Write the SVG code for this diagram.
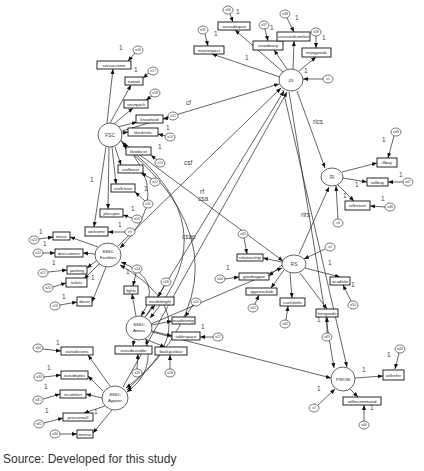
<svg xmlns="http://www.w3.org/2000/svg" width="424" height="471" viewBox="0 0 424 471">
<style>
.bg{fill:#fff}
.lat{fill:#fff;stroke:#222;stroke-width:0.7}
.obs{fill:#fff;stroke:#111;stroke-width:0.9}
.err{fill:#fff;stroke:#222;stroke-width:0.6}
.ln{fill:none;stroke:#222;stroke-width:0.7}
.t{font-family:"Liberation Sans",Arial,sans-serif;font-size:4.3px;fill:#222;text-anchor:middle}
.tl{font-family:"Liberation Sans",Arial,sans-serif;font-size:5px;fill:#444;text-anchor:middle}
.te{font-family:"Liberation Sans",Arial,sans-serif;font-size:3.4px;fill:#333;text-anchor:middle}
.one{font-family:"Liberation Sans",Arial,sans-serif;font-size:6.5px;fill:#444}
.pl{font-family:"Liberation Sans",Arial,sans-serif;font-size:6.5px;fill:#444}
.src{font-family:"Liberation Sans",Arial,sans-serif;font-size:12px;fill:#333}
</style>
<defs>
<marker id="a" viewBox="0 0 10 10" refX="10" refY="5" markerWidth="5" markerHeight="5" markerUnits="userSpaceOnUse" orient="auto-start-reverse"><path d="M0,1 L10,5 L0,9 z" fill="#111"/></marker>
</defs>
<rect class="bg" x="0" y="0" width="424" height="471"/>

<g id="connectors">
<!-- structural paths -->
<line class="ln" x1="122" y1="131" x2="279" y2="84" marker-end="url(#a)"/>
<line class="ln" x1="118" y1="246" x2="281" y2="88" marker-end="url(#a)"/>
<line class="ln" x1="146" y1="316" x2="284" y2="91" marker-end="url(#a)"/>
<line class="ln" x1="123" y1="387" x2="287" y2="92" marker-end="url(#a)"/>
<line class="ln" x1="121" y1="141" x2="283" y2="261" marker-end="url(#a)"/>
<line class="ln" x1="151" y1="324" x2="282" y2="268" marker-end="url(#a)"/>
<line class="ln" x1="152" y1="332" x2="331" y2="378" marker-end="url(#a)"/>
<line class="ln" x1="297" y1="91" x2="325" y2="168" marker-end="url(#a)"/>
<line class="ln" x1="299" y1="254" x2="329" y2="187" marker-end="url(#a)"/>
<line class="ln" x1="289" y1="92" x2="334" y2="368" marker-end="url(#a)"/>
<line class="ln" x1="283" y1="90" x2="347" y2="367" marker-end="url(#a)"/>
<!-- covariances -->
<path class="ln" d="M122,142 Q175,195 120,248" marker-start="url(#a)" marker-end="url(#a)"/>
<path class="ln" d="M123,144 Q230,225 150,318" marker-start="url(#a)" marker-end="url(#a)"/>
<path class="ln" d="M124,146 Q265,265 127,390" marker-start="url(#a)" marker-end="url(#a)"/>
<path class="ln" d="M121,262 Q165,280 141,316" marker-start="url(#a)" marker-end="url(#a)"/>
<path class="ln" d="M120,265 Q215,320 126,388" marker-start="url(#a)" marker-end="url(#a)"/>
<path class="ln" d="M146,339 Q155,372 127,392" marker-start="url(#a)" marker-end="url(#a)"/>
<!-- CS indicators -->
<line class="ln" x1="280" y1="77" x2="212" y2="54" marker-end="url(#a)"/>
<line class="ln" x1="283" y1="72" x2="235" y2="30" marker-end="url(#a)"/>
<line class="ln" x1="287" y1="69" x2="274" y2="50" marker-end="url(#a)"/>
<line class="ln" x1="293" y1="69" x2="294" y2="41" marker-end="url(#a)"/>
<line class="ln" x1="299" y1="71" x2="316" y2="57" marker-end="url(#a)"/>
<line class="ln" x1="205" y1="34" x2="208" y2="46" marker-end="url(#a)"/>
<line class="ln" x1="230" y1="14" x2="233" y2="22" marker-end="url(#a)"/>
<line class="ln" x1="265" y1="29" x2="268" y2="41" marker-end="url(#a)"/>
<line class="ln" x1="287" y1="18" x2="294" y2="32" marker-end="url(#a)"/>
<line class="ln" x1="316" y1="36" x2="316" y2="48" marker-end="url(#a)"/>
<line class="ln" x1="323" y1="79" x2="303" y2="79" marker-end="url(#a)"/>
<!-- FSC indicators -->
<line class="ln" x1="107" y1="123" x2="113" y2="69" marker-end="url(#a)"/>
<line class="ln" x1="110" y1="123" x2="131" y2="85" marker-end="url(#a)"/>
<line class="ln" x1="114" y1="124" x2="133" y2="108" marker-end="url(#a)"/>
<line class="ln" x1="118" y1="127" x2="137" y2="122" marker-end="url(#a)"/>
<line class="ln" x1="122" y1="133" x2="128" y2="132" marker-end="url(#a)"/>
<line class="ln" x1="121" y1="140" x2="127" y2="149" marker-end="url(#a)"/>
<line class="ln" x1="115" y1="147" x2="121" y2="165" marker-end="url(#a)"/>
<line class="ln" x1="112" y1="147" x2="116" y2="184" marker-end="url(#a)"/>
<line class="ln" x1="109" y1="147" x2="108" y2="209" marker-end="url(#a)"/>
<line class="ln" x1="106" y1="147" x2="94" y2="227" marker-end="url(#a)"/>
<line class="ln" x1="135" y1="53" x2="128" y2="61" marker-end="url(#a)"/>
<line class="ln" x1="149" y1="73" x2="143" y2="78" marker-end="url(#a)"/>
<line class="ln" x1="152" y1="96" x2="146" y2="100" marker-end="url(#a)"/>
<line class="ln" x1="168" y1="118" x2="163" y2="119" marker-end="url(#a)"/>
<line class="ln" x1="166" y1="136" x2="158" y2="134" marker-end="url(#a)"/>
<line class="ln" x1="157" y1="160" x2="151" y2="155" marker-end="url(#a)"/>
<line class="ln" x1="152" y1="179" x2="141" y2="173" marker-end="url(#a)"/>
<line class="ln" x1="145" y1="201" x2="135" y2="192" marker-end="url(#a)"/>
<line class="ln" x1="132" y1="218" x2="123" y2="215" marker-end="url(#a)"/>
<line class="ln" x1="125" y1="232" x2="108" y2="232" marker-end="url(#a)"/>
<!-- Facilities indicators -->
<line class="ln" x1="98" y1="247" x2="70" y2="237" marker-end="url(#a)"/>
<line class="ln" x1="95" y1="254" x2="83" y2="253" marker-end="url(#a)"/>
<line class="ln" x1="96" y1="261" x2="87" y2="268" marker-end="url(#a)"/>
<line class="ln" x1="99" y1="264" x2="84" y2="279" marker-end="url(#a)"/>
<line class="ln" x1="106" y1="267" x2="92" y2="302" marker-end="url(#a)"/>
<line class="ln" x1="39" y1="239" x2="53" y2="237" marker-end="url(#a)"/>
<line class="ln" x1="43" y1="253" x2="55" y2="253" marker-end="url(#a)"/>
<line class="ln" x1="48" y1="272" x2="67" y2="270" marker-end="url(#a)"/>
<line class="ln" x1="53" y1="287" x2="66" y2="283" marker-end="url(#a)"/>
<line class="ln" x1="60" y1="305" x2="77" y2="302" marker-end="url(#a)"/>
<!-- Atmos indicators -->
<line class="ln" x1="136" y1="316" x2="132" y2="294" marker-end="url(#a)"/>
<line class="ln" x1="145" y1="317" x2="155" y2="305" marker-end="url(#a)"/>
<line class="ln" x1="152" y1="325" x2="172" y2="321" marker-end="url(#a)"/>
<line class="ln" x1="152" y1="331" x2="172" y2="336" marker-end="url(#a)"/>
<line class="ln" x1="134" y1="340" x2="133" y2="346" marker-end="url(#a)"/>
<line class="ln" x1="145" y1="339" x2="165" y2="347" marker-end="url(#a)"/>
<line class="ln" x1="136" y1="273" x2="133" y2="286" marker-end="url(#a)"/>
<line class="ln" x1="164" y1="286" x2="158" y2="297" marker-end="url(#a)"/>
<line class="ln" x1="193" y1="305" x2="185" y2="317" marker-end="url(#a)"/>
<line class="ln" x1="213" y1="337" x2="200" y2="337" marker-end="url(#a)"/>
<line class="ln" x1="137" y1="369" x2="138" y2="354" marker-end="url(#a)"/>
<line class="ln" x1="170" y1="369" x2="170" y2="355" marker-end="url(#a)"/>
<!-- Appear indicators -->
<line class="ln" x1="110" y1="386" x2="88" y2="355" marker-end="url(#a)"/>
<line class="ln" x1="103" y1="391" x2="88" y2="376" marker-end="url(#a)"/>
<line class="ln" x1="102" y1="398" x2="86" y2="394" marker-end="url(#a)"/>
<line class="ln" x1="105" y1="406" x2="84" y2="413" marker-end="url(#a)"/>
<line class="ln" x1="112" y1="410" x2="93" y2="433" marker-end="url(#a)"/>
<line class="ln" x1="43" y1="349" x2="61" y2="351" marker-end="url(#a)"/>
<line class="ln" x1="44" y1="377" x2="61" y2="375" marker-end="url(#a)"/>
<line class="ln" x1="43" y1="399" x2="60" y2="394" marker-end="url(#a)"/>
<line class="ln" x1="44" y1="423" x2="63" y2="418" marker-end="url(#a)"/>
<line class="ln" x1="60" y1="434" x2="77" y2="434" marker-end="url(#a)"/>
<!-- RS indicators -->
<line class="ln" x1="305" y1="268" x2="340" y2="277" marker-end="url(#a)"/>
<line class="ln" x1="300" y1="273" x2="327" y2="309" marker-end="url(#a)"/>
<line class="ln" x1="290" y1="273" x2="292" y2="298" marker-end="url(#a)"/>
<line class="ln" x1="282" y1="262" x2="263" y2="258" marker-end="url(#a)"/>
<line class="ln" x1="282" y1="265" x2="269" y2="276" marker-end="url(#a)"/>
<line class="ln" x1="284" y1="270" x2="271" y2="288" marker-end="url(#a)"/>
<line class="ln" x1="325" y1="249" x2="304" y2="259" marker-end="url(#a)"/>
<line class="ln" x1="351" y1="301" x2="343" y2="285" marker-end="url(#a)"/>
<line class="ln" x1="327" y1="333" x2="327" y2="317" marker-end="url(#a)"/>
<line class="ln" x1="286" y1="320" x2="288" y2="306" marker-end="url(#a)"/>
<line class="ln" x1="244" y1="238" x2="247" y2="254" marker-end="url(#a)"/>
<line class="ln" x1="225" y1="279" x2="239" y2="277" marker-end="url(#a)"/>
<line class="ln" x1="255" y1="304" x2="259" y2="295" marker-end="url(#a)"/>
<!-- RI indicators -->
<line class="ln" x1="342" y1="172" x2="377" y2="163" marker-end="url(#a)"/>
<line class="ln" x1="343" y1="178" x2="367" y2="182" marker-end="url(#a)"/>
<line class="ln" x1="338" y1="185" x2="354" y2="201" marker-end="url(#a)"/>
<line class="ln" x1="394" y1="136" x2="388" y2="158" marker-end="url(#a)"/>
<line class="ln" x1="403" y1="182" x2="388" y2="182" marker-end="url(#a)"/>
<line class="ln" x1="385" y1="207" x2="370" y2="206" marker-end="url(#a)"/>
<line class="ln" x1="338" y1="219" x2="336" y2="186" marker-end="url(#a)"/>
<!-- PWOM indicators -->
<line class="ln" x1="355" y1="378" x2="383" y2="376" marker-end="url(#a)"/>
<line class="ln" x1="350" y1="389" x2="358" y2="397" marker-end="url(#a)"/>
<line class="ln" x1="399" y1="353" x2="395" y2="369" marker-end="url(#a)"/>
<line class="ln" x1="364" y1="421" x2="364" y2="405" marker-end="url(#a)"/>
<line class="ln" x1="318" y1="405" x2="335" y2="389" marker-end="url(#a)"/>
</g>

<g id="labels">
<text class="pl" x="186" y="105">cf</text>
<text class="pl" x="184" y="165">csf</text>
<text class="pl" x="200" y="194">rf</text>
<text class="pl" x="198" y="201">csa</text>
<text class="pl" x="182" y="239">csap</text>
<text class="pl" x="313" y="124">rics</text>
<text class="pl" x="301" y="217">rirs</text>
<text class="one" x="245" y="60">1</text>
<text class="one" x="214" y="36">1</text>
<text class="one" x="236" y="14">1</text>
<text class="one" x="270" y="30">1</text>
<text class="one" x="295" y="20">1</text>
<text class="one" x="322" y="40">1</text>
<text class="one" x="304" y="73">1</text>
<text class="one" x="119" y="50">1</text>
<text class="one" x="134" y="72">1</text>
<text class="one" x="166" y="130">1</text>
<text class="one" x="158" y="149">1</text>
<text class="one" x="144" y="191">1</text>
<text class="one" x="131" y="211">1</text>
<text class="one" x="90" y="182">1</text>
<text class="one" x="118" y="227">1</text>
<text class="one" x="39" y="234">1</text>
<text class="one" x="43" y="246">1</text>
<text class="one" x="52" y="265">1</text>
<text class="one" x="91" y="280">1</text>
<text class="one" x="62" y="299">1</text>
<text class="one" x="126" y="274">1</text>
<text class="one" x="201" y="329">1</text>
<text class="one" x="56" y="345">1</text>
<text class="one" x="47" y="370">1</text>
<text class="one" x="44" y="389">1</text>
<text class="one" x="45" y="413">1</text>
<text class="one" x="94" y="414">1</text>
<text class="one" x="328" y="265">1</text>
<text class="one" x="351" y="287">1</text>
<text class="one" x="317" y="322">1</text>
<text class="one" x="226" y="270">1</text>
<text class="one" x="382" y="142">1</text>
<text class="one" x="399" y="177">1</text>
<text class="one" x="355" y="187">1</text>
<text class="one" x="381" y="201">1</text>
<text class="one" x="343" y="198">1</text>
<text class="one" x="362" y="372">1</text>
<text class="one" x="387" y="357">1</text>
<text class="one" x="370" y="410">1</text>
<text class="one" x="317" y="391">1</text>
<text class="src" x="3" y="463">Source: Developed for this study</text>
</g>

<g id="CS"><ellipse class="lat" cx="291" cy="80" rx="12" ry="11"/><text class="tl" x="291" y="82">cs</text></g>
<g id="FSC"><ellipse class="lat" cx="110" cy="135" rx="12" ry="12"/><text class="tl" x="110" y="137">FSC</text></g>
<g id="RI"><ellipse class="lat" cx="332" cy="177" rx="11" ry="9"/><text class="tl" x="332" y="179">RI</text></g>
<g id="RS"><ellipse class="lat" cx="294" cy="264" rx="12" ry="9"/><text class="tl" x="294" y="266">RS</text></g>
<g id="PWOM"><ellipse class="lat" cx="343" cy="379" rx="12" ry="12"/><text class="t" x="343" y="381">PWOM</text></g>
<g id="SSSC_Facilities"><ellipse class="lat" cx="108" cy="255" rx="13" ry="12"/><text class="t" x="108" y="253">SSSC</text><text class="t" x="108" y="259">Facilities</text></g>
<g id="SSSC_Atmos"><ellipse class="lat" cx="139" cy="328" rx="13" ry="12"/><text class="t" x="139" y="326">SSSC</text><text class="t" x="139" y="332">Atmos</text></g>
<g id="SSSC_Appear"><ellipse class="lat" cx="115" cy="398" rx="13" ry="12"/><text class="t" x="115" y="396">SSSC</text><text class="t" x="115" y="402">Appear</text></g>

<g id="meetexpect"><rect class="obs" x="194" y="46" width="30" height="8"/><text class="t" x="209" y="51.5">meetexpect</text></g>
<g id="servadequat"><rect class="obs" x="218" y="22" width="32" height="8"/><text class="t" x="234" y="27.5">servadequat</text></g>
<g id="crowdeasy"><rect class="obs" x="253" y="41" width="30" height="9"/><text class="t" x="268" y="47">crowdeasy</text></g>
<g id="surroundcomfort"><rect class="obs" x="277" y="32" width="33" height="9"/><text class="t" x="293.5" y="38">surroundcomfort</text></g>
<g id="enjoyprods"><rect class="obs" x="302" y="48" width="29" height="9"/><text class="t" x="316.5" y="54">enjoyprods</text></g>

<g id="servacctime"><rect class="obs" x="97" y="61" width="34" height="8"/><text class="t" x="114" y="66.5">servacctime</text></g>
<g id="nowait"><rect class="obs" x="125" y="77" width="18" height="8"/><text class="t" x="134" y="82.5">nowait</text></g>
<g id="servquick"><rect class="obs" x="124" y="100" width="24" height="8"/><text class="t" x="136" y="105.5">servquick</text></g>
<g id="knowfood"><rect class="obs" x="136" y="115" width="27" height="8"/><text class="t" x="149.5" y="120.5">knowfood</text></g>
<g id="likedrinks"><rect class="obs" x="128" y="128" width="30" height="8"/><text class="t" x="143" y="133.5">likedrinks</text></g>
<g id="likedecor"><rect class="obs" x="126" y="147" width="25" height="8"/><text class="t" x="138.5" y="152.5">likedecor</text></g>
<g id="staffwear"><rect class="obs" x="118" y="165" width="25" height="8"/><text class="t" x="130.5" y="170.5">staffwear</text></g>
<g id="staffclean"><rect class="obs" x="111" y="184" width="24" height="8"/><text class="t" x="123" y="189.5">staffclean</text></g>
<g id="plasuper"><rect class="obs" x="100" y="209" width="23" height="8"/><text class="t" x="111.5" y="214.5">plasuper</text></g>
<g id="welcome"><rect class="obs" x="85" y="227" width="23" height="9"/><text class="t" x="96.5" y="233">welcome</text></g>

<g id="music"><rect class="obs" x="53" y="232" width="17" height="8"/><text class="t" x="61.5" y="237.5">music</text></g>
<g id="dressatmos"><rect class="obs" x="55" y="249" width="28" height="8"/><text class="t" x="69" y="254.5">dressatmos</text></g>
<g id="parking"><rect class="obs" x="67" y="266" width="20" height="8"/><text class="t" x="77" y="271.5">parking</text></g>
<g id="toilets"><rect class="obs" x="66" y="278" width="21" height="9"/><text class="t" x="76.5" y="284">toilets</text></g>
<g id="decor"><rect class="obs" x="77" y="297" width="15" height="9"/><text class="t" x="84.5" y="303">decor</text></g>

<g id="lights"><rect class="obs" x="124" y="286" width="14" height="8"/><text class="t" x="131" y="291.5">lights</text></g>
<g id="insidebright"><rect class="obs" x="146" y="297" width="28" height="8"/><text class="t" x="160" y="302.5">insidebright</text></g>
<g id="insidetemp"><rect class="obs" x="172" y="317" width="23" height="7"/><text class="t" x="183.5" y="322">insidetemp</text></g>
<g id="tablespace"><rect class="obs" x="172" y="332" width="28" height="8"/><text class="t" x="186" y="337.5">tablespace</text></g>
<g id="outsidevisible"><rect class="obs" x="115" y="346" width="37" height="8"/><text class="t" x="133.5" y="351.5">outsidevisible</text></g>
<g id="backgcolour"><rect class="obs" x="155" y="347" width="32" height="8"/><text class="t" x="171" y="352.5">backgcolour</text></g>

<g id="outsidecons"><rect class="obs" x="61" y="347" width="32" height="8"/><text class="t" x="77" y="352.5">outsidecons</text></g>
<g id="outsideples"><rect class="obs" x="61" y="371" width="27" height="8"/><text class="t" x="74.5" y="376.5">outsideples</text></g>
<g id="incomfort"><rect class="obs" x="60" y="390" width="26" height="8"/><text class="t" x="73" y="395.5">incomfort</text></g>
<g id="pressemall"><rect class="obs" x="63" y="413" width="30" height="8"/><text class="t" x="78" y="418.5">pressemall</text></g>
<g id="menus"><rect class="obs" x="77" y="430" width="16" height="8"/><text class="t" x="85" y="435.5">menus</text></g>

<g id="relationship"><rect class="obs" x="237" y="254" width="26" height="7"/><text class="t" x="250" y="259">relationship</text></g>
<g id="goodrappor"><rect class="obs" x="239" y="273" width="30" height="7"/><text class="t" x="254" y="278">goodrappor</text></g>
<g id="approachab"><rect class="obs" x="246" y="288" width="31" height="7"/><text class="t" x="261.5" y="293">approachab</text></g>
<g id="usefulinfo"><rect class="obs" x="280" y="298" width="25" height="8"/><text class="t" x="292.5" y="303.5">usefulinfo</text></g>
<g id="acadinfo"><rect class="obs" x="330" y="277" width="20" height="8"/><text class="t" x="340" y="282.5">acadinfo</text></g>
<g id="freegoods"><rect class="obs" x="316" y="309" width="22" height="8"/><text class="t" x="327" y="314.5">freegoods</text></g>

<g id="illbuy"><rect class="obs" x="377" y="158" width="20" height="9"/><text class="t" x="387" y="164">illbuy</text></g>
<g id="willbuy"><rect class="obs" x="367" y="178" width="21" height="8"/><text class="t" x="377.5" y="183.5">willbuy</text></g>
<g id="willreturn"><rect class="obs" x="345" y="201" width="25" height="9"/><text class="t" x="357.5" y="207">willreturn</text></g>

<g id="willrefer"><rect class="obs" x="383" y="370" width="21" height="10"/><text class="t" x="393.5" y="376.5">willrefer</text></g>
<g id="willrecommend"><rect class="obs" x="343" y="397" width="38" height="8"/><text class="t" x="362" y="402.5">willrecommend</text></g>

<g id="e36"><ellipse class="err" cx="228" cy="10" rx="5" ry="4"/><text class="te" x="228" y="11.2">e36</text></g>
<g id="e35"><ellipse class="err" cx="203" cy="30" rx="5" ry="4"/><text class="te" x="203" y="31.2">e35</text></g>
<g id="e37"><ellipse class="err" cx="264" cy="25" rx="5" ry="4"/><text class="te" x="264" y="26.2">e37</text></g>
<g id="e38"><ellipse class="err" cx="285" cy="14" rx="5" ry="4"/><text class="te" x="285" y="15.2">e38</text></g>
<g id="e39"><ellipse class="err" cx="316" cy="32" rx="5" ry="4"/><text class="te" x="316" y="33.2">e39</text></g>
<g id="z1"><ellipse class="err" cx="328" cy="79" rx="5" ry="4"/><text class="te" x="328" y="80.2">z1</text></g>
<g id="e16"><ellipse class="err" cx="138" cy="50" rx="5" ry="4"/><text class="te" x="138" y="51.2">e16</text></g>
<g id="e17"><ellipse class="err" cx="153" cy="71" rx="5" ry="4"/><text class="te" x="153" y="72.2">e17</text></g>
<g id="e18"><ellipse class="err" cx="155" cy="93" rx="5" ry="4"/><text class="te" x="155" y="94.2">e18</text></g>
<g id="e15"><ellipse class="err" cx="173" cy="116" rx="5" ry="4"/><text class="te" x="173" y="117.2">e15</text></g>
<g id="e14"><ellipse class="err" cx="170" cy="137" rx="5" ry="4"/><text class="te" x="170" y="138.2">e14</text></g>
<g id="e13"><ellipse class="err" cx="160" cy="163" rx="5" ry="4"/><text class="te" x="160" y="164.2">e13</text></g>
<g id="e12"><ellipse class="err" cx="155" cy="182" rx="5" ry="4"/><text class="te" x="155" y="183.2">e12</text></g>
<g id="e11"><ellipse class="err" cx="148" cy="204" rx="5" ry="4"/><text class="te" x="148" y="205.2">e11</text></g>
<g id="e10"><ellipse class="err" cx="137" cy="219" rx="5" ry="4"/><text class="te" x="137" y="220.2">e10</text></g>
<g id="e9"><ellipse class="err" cx="130" cy="232" rx="5" ry="4"/><text class="te" x="130" y="233.2">e9</text></g>
<g id="e23"><ellipse class="err" cx="34" cy="240" rx="5" ry="4"/><text class="te" x="34" y="241.2">e23</text></g>
<g id="e22"><ellipse class="err" cx="38" cy="253" rx="5" ry="4"/><text class="te" x="38" y="254.2">e22</text></g>
<g id="e21"><ellipse class="err" cx="43" cy="273" rx="5" ry="4"/><text class="te" x="43" y="274.2">e21</text></g>
<g id="e20"><ellipse class="err" cx="48" cy="288" rx="5" ry="4"/><text class="te" x="48" y="289.2">e20</text></g>
<g id="e19"><ellipse class="err" cx="55" cy="306" rx="5" ry="4"/><text class="te" x="55" y="307.2">e19</text></g>
<g id="e24"><ellipse class="err" cx="137" cy="269" rx="5" ry="4"/><text class="te" x="137" y="270.2">e24</text></g>
<g id="e26"><ellipse class="err" cx="166" cy="282" rx="5" ry="4"/><text class="te" x="166" y="283.2">e26</text></g>
<g id="e25"><ellipse class="err" cx="196" cy="302" rx="5" ry="4"/><text class="te" x="196" y="303.2">e25</text></g>
<g id="e27"><ellipse class="err" cx="218" cy="337" rx="5" ry="4"/><text class="te" x="218" y="338.2">e27</text></g>
<g id="e29"><ellipse class="err" cx="137" cy="373" rx="5" ry="4"/><text class="te" x="137" y="374.2">e29</text></g>
<g id="e28"><ellipse class="err" cx="170" cy="373" rx="5" ry="4"/><text class="te" x="170" y="374.2">e28</text></g>
<g id="e34"><ellipse class="err" cx="38" cy="348" rx="5" ry="4"/><text class="te" x="38" y="349.2">e34</text></g>
<g id="e33"><ellipse class="err" cx="39" cy="377" rx="5" ry="4"/><text class="te" x="39" y="378.2">e33</text></g>
<g id="e31"><ellipse class="err" cx="38" cy="400" rx="5" ry="4"/><text class="te" x="38" y="401.2">e31</text></g>
<g id="e32"><ellipse class="err" cx="39" cy="424" rx="5" ry="4"/><text class="te" x="39" y="425.2">e32</text></g>
<g id="e30"><ellipse class="err" cx="55" cy="434" rx="5" ry="4"/><text class="te" x="55" y="435.2">e30</text></g>
<g id="z2"><ellipse class="err" cx="330" cy="247" rx="5" ry="4"/><text class="te" x="330" y="248.2">z2</text></g>
<g id="e45"><ellipse class="err" cx="243" cy="234" rx="5" ry="4"/><text class="te" x="243" y="235.2">e45</text></g>
<g id="e44"><ellipse class="err" cx="220" cy="279" rx="5" ry="4"/><text class="te" x="220" y="280.2">e44</text></g>
<g id="e41"><ellipse class="err" cx="253" cy="308" rx="5" ry="4"/><text class="te" x="253" y="309.2">e41</text></g>
<g id="e42"><ellipse class="err" cx="285" cy="324" rx="5" ry="4"/><text class="te" x="285" y="325.2">e42</text></g>
<g id="e43"><ellipse class="err" cx="327" cy="337" rx="5" ry="4"/><text class="te" x="327" y="338.2">e43</text></g>
<g id="e50"><ellipse class="err" cx="353" cy="305" rx="5" ry="4"/><text class="te" x="353" y="306.2">e50</text></g>
<g id="e48"><ellipse class="err" cx="396" cy="132" rx="5" ry="4"/><text class="te" x="396" y="133.2">e48</text></g>
<g id="e47"><ellipse class="err" cx="408" cy="182" rx="5" ry="4"/><text class="te" x="408" y="183.2">e47</text></g>
<g id="e46"><ellipse class="err" cx="390" cy="207" rx="5" ry="4"/><text class="te" x="390" y="208.2">e46</text></g>
<g id="z3"><ellipse class="err" cx="338" cy="223" rx="5" ry="4"/><text class="te" x="338" y="224.2">z3</text></g>
<g id="e49"><ellipse class="err" cx="400" cy="349" rx="5" ry="4"/><text class="te" x="400" y="350.2">e49</text></g>
<g id="e40"><ellipse class="err" cx="364" cy="425" rx="5" ry="4"/><text class="te" x="364" y="426.2">e40</text></g>
<g id="z7"><ellipse class="err" cx="314" cy="408" rx="5" ry="4"/><text class="te" x="314" y="409.2">z7</text></g>
</svg>
